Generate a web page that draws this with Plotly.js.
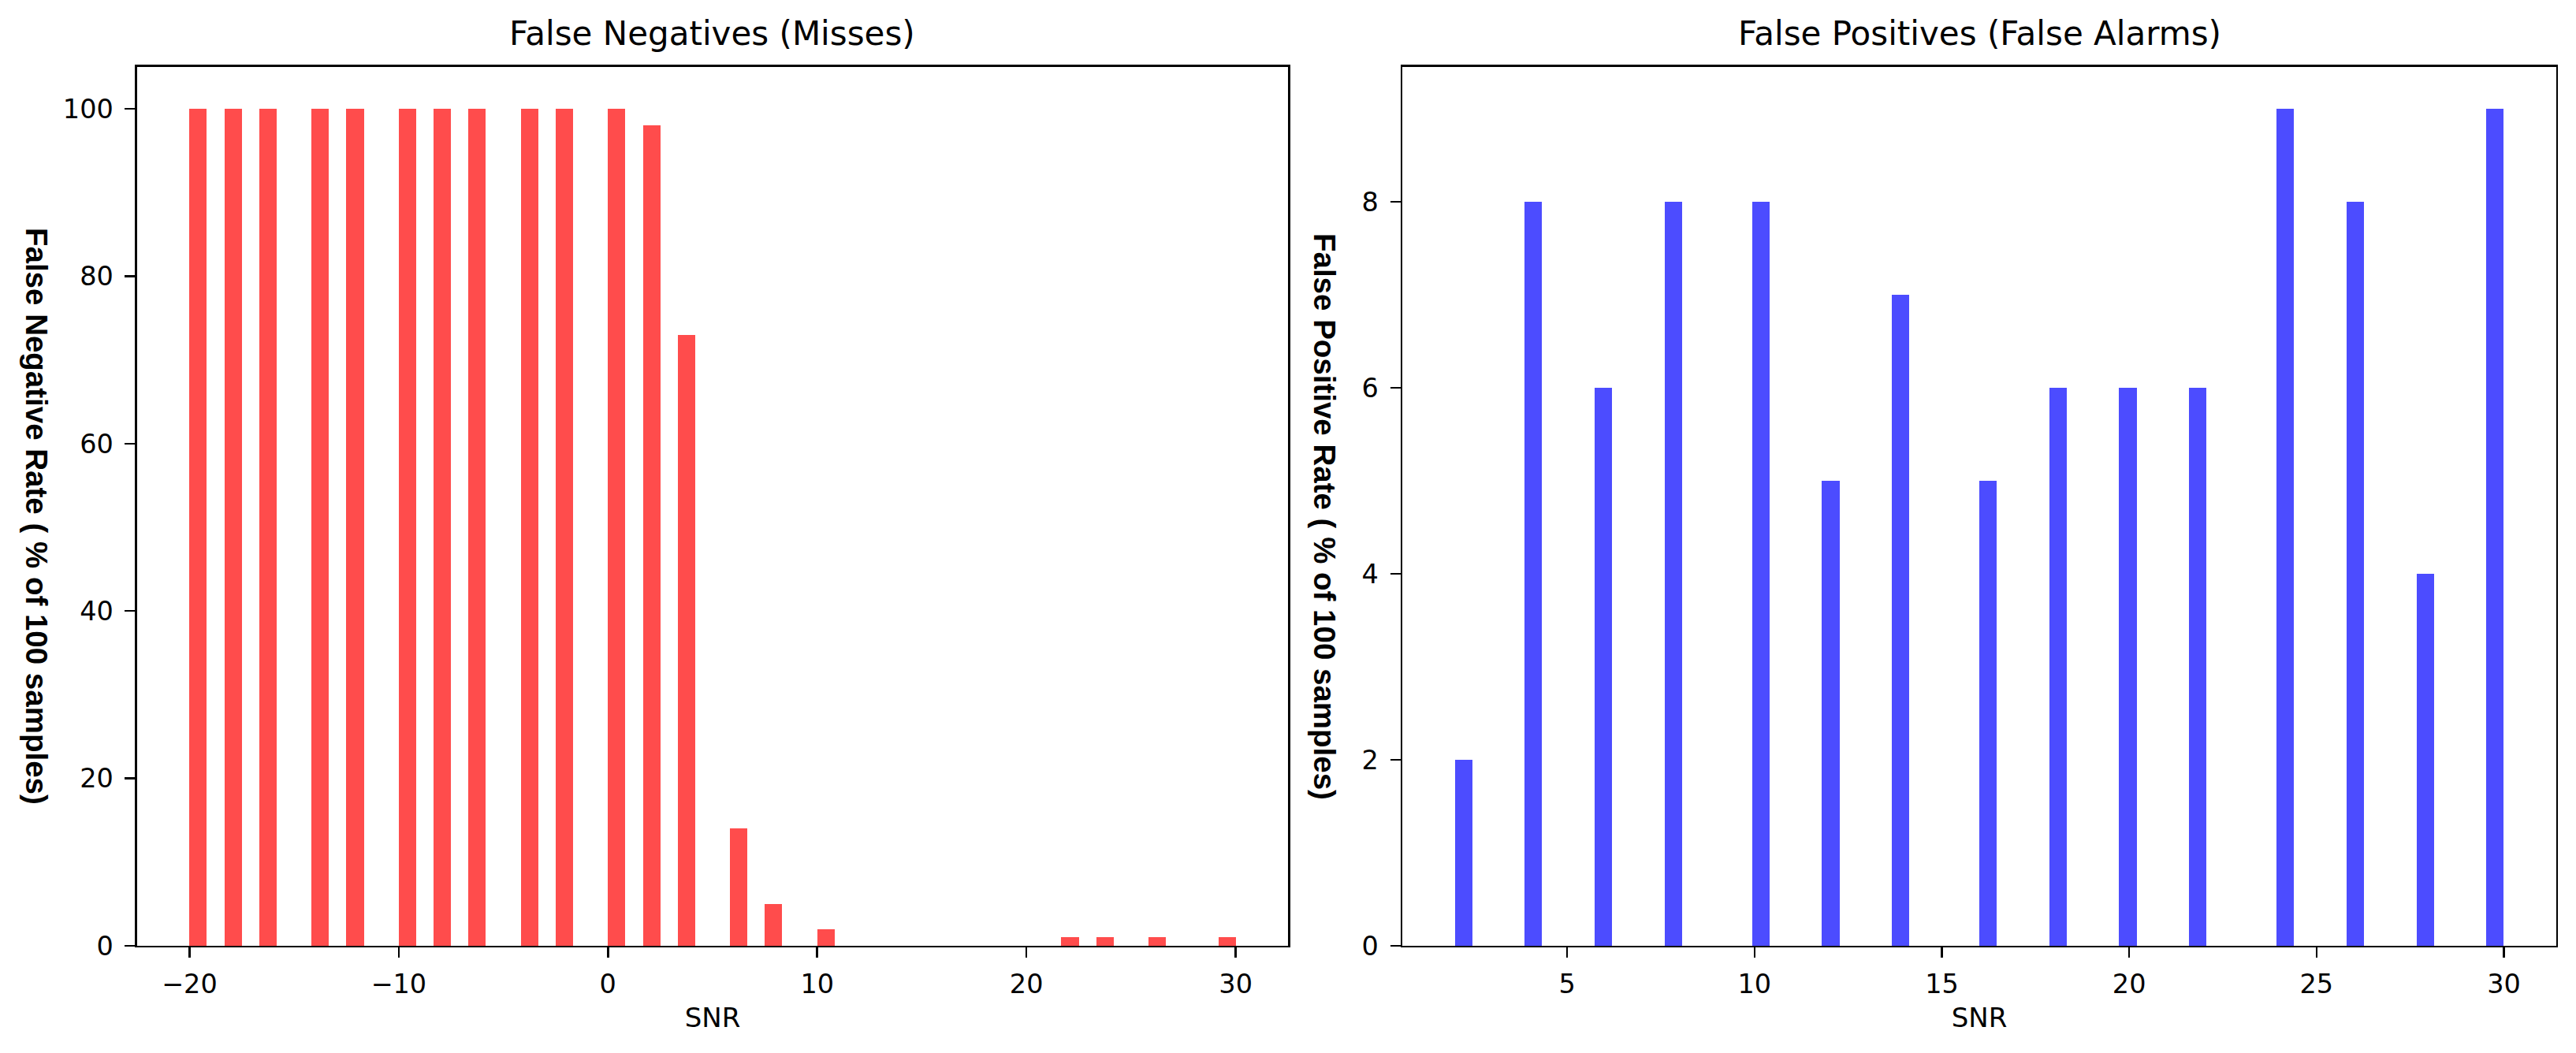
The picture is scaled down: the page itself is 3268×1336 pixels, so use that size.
<!DOCTYPE html>
<html>
<head>
<meta charset="utf-8">
<script src="https://cdn.plot.ly/plotly-3.0.1.min.js"></script>
<style>
  html, body { margin: 0; padding: 0; background: white; }
  #chart { width: 3268px; height: 1336px; }
</style>
</head>
<body>
<div id="chart"></div>
<script>
// SNR values (dB) and rates per SNR
var snrFN = [-20, -18, -16, -14, -12, -10, -8, -6, -4, -2, 0, 2, 4, 6, 8, 10,
             12, 14, 16, 18, 20, 22, 24, 26, 28, 30];
var fnRate = [100, 100, 100, 100, 100, 100, 100, 100, 100, 100, 100, 98, 73, 14, 5, 2,
              0, 0, 0, 0, 0, 1, 1, 1, 0, 1];

var snrFP = [2, 4, 6, 8, 10, 12, 14, 16, 18, 20, 22, 24, 26, 28, 30];
var fpRate = [2, 8, 6, 8, 8, 5, 7, 5, 6, 6, 6, 9, 8, 4, 9];

var nBins = 60;

// weighted histogram like np.histogram(x, bins=n, weights=w): last bin closed
function histBins(x, w, n) {
  var lo = Math.min.apply(null, x), hi = Math.max.apply(null, x);
  var size = (hi - lo) / n;
  var sums = {};
  x.forEach(function(v, i) {
    var k = Math.min(Math.floor((v - lo) * n / (hi - lo) + 1e-9), n - 1);
    sums[k] = (sums[k] || 0) + w[i];
  });
  var xs = [], ys = [];
  Object.keys(sums).forEach(function(k) {
    xs.push(lo + (Number(k) + 0.5) * size);
    ys.push(sums[k]);
  });
  return {x: xs, y: ys, width: size};
}

var fn = histBins(snrFN, fnRate, nBins);
var fp = histBins(snrFP, fpRate, nBins);

var data = [{
  type: 'bar',
  x: fn.x,
  y: fn.y,
  width: fn.width,
  marker: {color: 'rgba(255,0,0,0.7)', line: {width: 0}},
  xaxis: 'x',
  yaxis: 'y',
  hoverinfo: 'x+y'
}, {
  type: 'bar',
  x: fp.x,
  y: fp.y,
  width: fp.width,
  marker: {color: 'rgba(0,0,255,0.7)', line: {width: 0}},
  xaxis: 'x2',
  yaxis: 'y2',
  hoverinfo: 'x+y'
}];

var tickFont = {family: 'DejaVu Sans', size: 33.5, color: 'black'};

function axisStyle(extra) {
  var a = {
    showgrid: false,
    zeroline: false,
    showline: true,
    mirror: true,
    linecolor: 'black',
    linewidth: 2.5,
    ticks: 'outside',
    ticklen: 13,
    tickwidth: 2.5,
    tickcolor: 'black',
    tickfont: tickFont,
    ticklabelstandoff: 8
  };
  for (var k in extra) a[k] = extra[k];
  return a;
}

var yLabelFont = {family: 'Liberation Sans, Arial', size: 38.5, color: 'black', weight: 'bold'};
var titleFont = {family: 'DejaVu Sans', size: 42, color: 'black'};
var xLabelFont = {family: 'DejaVu Sans', size: 34, color: 'black'};

var layout = {
  width: 3268,
  height: 1336,
  margin: {l: 0, r: 0, t: 0, b: 0},
  paper_bgcolor: 'white',
  plot_bgcolor: 'white',
  showlegend: false,
  bargap: 0,
  xaxis: axisStyle({
    domain: [0.05324, 0.5], range: [-22.5, 32.5], dtick: 10, tick0: 0,
    anchor: 'y', ticklabelstandoff: 4,
    title: {text: 'SNR', font: xLabelFont, standoff: 13}
  }),
  yaxis: axisStyle({
    domain: [0.1018, 0.9364], range: [0, 105], dtick: 20, tick0: 0, anchor: 'x'
  }),
  xaxis2: axisStyle({
    domain: [0.54437, 0.99235], range: [0.6, 31.4], dtick: 5, tick0: 0,
    anchor: 'y2', ticklabelstandoff: 4,
    title: {text: 'SNR', font: xLabelFont, standoff: 13}
  }),
  yaxis2: axisStyle({
    domain: [0.1018, 0.9364], range: [0, 9.45], dtick: 2, tick0: 0, anchor: 'x2'
  }),
  annotations: [
    {text: 'False Negatives (Misses)', xref: 'paper', yref: 'paper', x: 0.2766, y: 0.968,
     xanchor: 'center', yanchor: 'middle', showarrow: false, font: titleFont},
    {text: 'False Positives (False Alarms)', xref: 'paper', yref: 'paper', x: 0.7684, y: 0.968,
     xanchor: 'center', yanchor: 'middle', showarrow: false, font: titleFont},
    {text: 'False Negative Rate ( % of 100 samples)', xref: 'paper', yref: 'paper',
     x: 0.0144, y: 0.5097, xanchor: 'center', yanchor: 'middle', textangle: 90,
     showarrow: false, font: yLabelFont},
    {text: 'False Positive Rate ( % of 100 samples)', xref: 'paper', yref: 'paper',
     x: 0.5144, y: 0.5097, xanchor: 'center', yanchor: 'middle', textangle: 90,
     showarrow: false, font: yLabelFont}
  ]
};

Plotly.newPlot('chart', data, layout, {displayModeBar: false, staticPlot: true});
</script>
</body>
</html>
